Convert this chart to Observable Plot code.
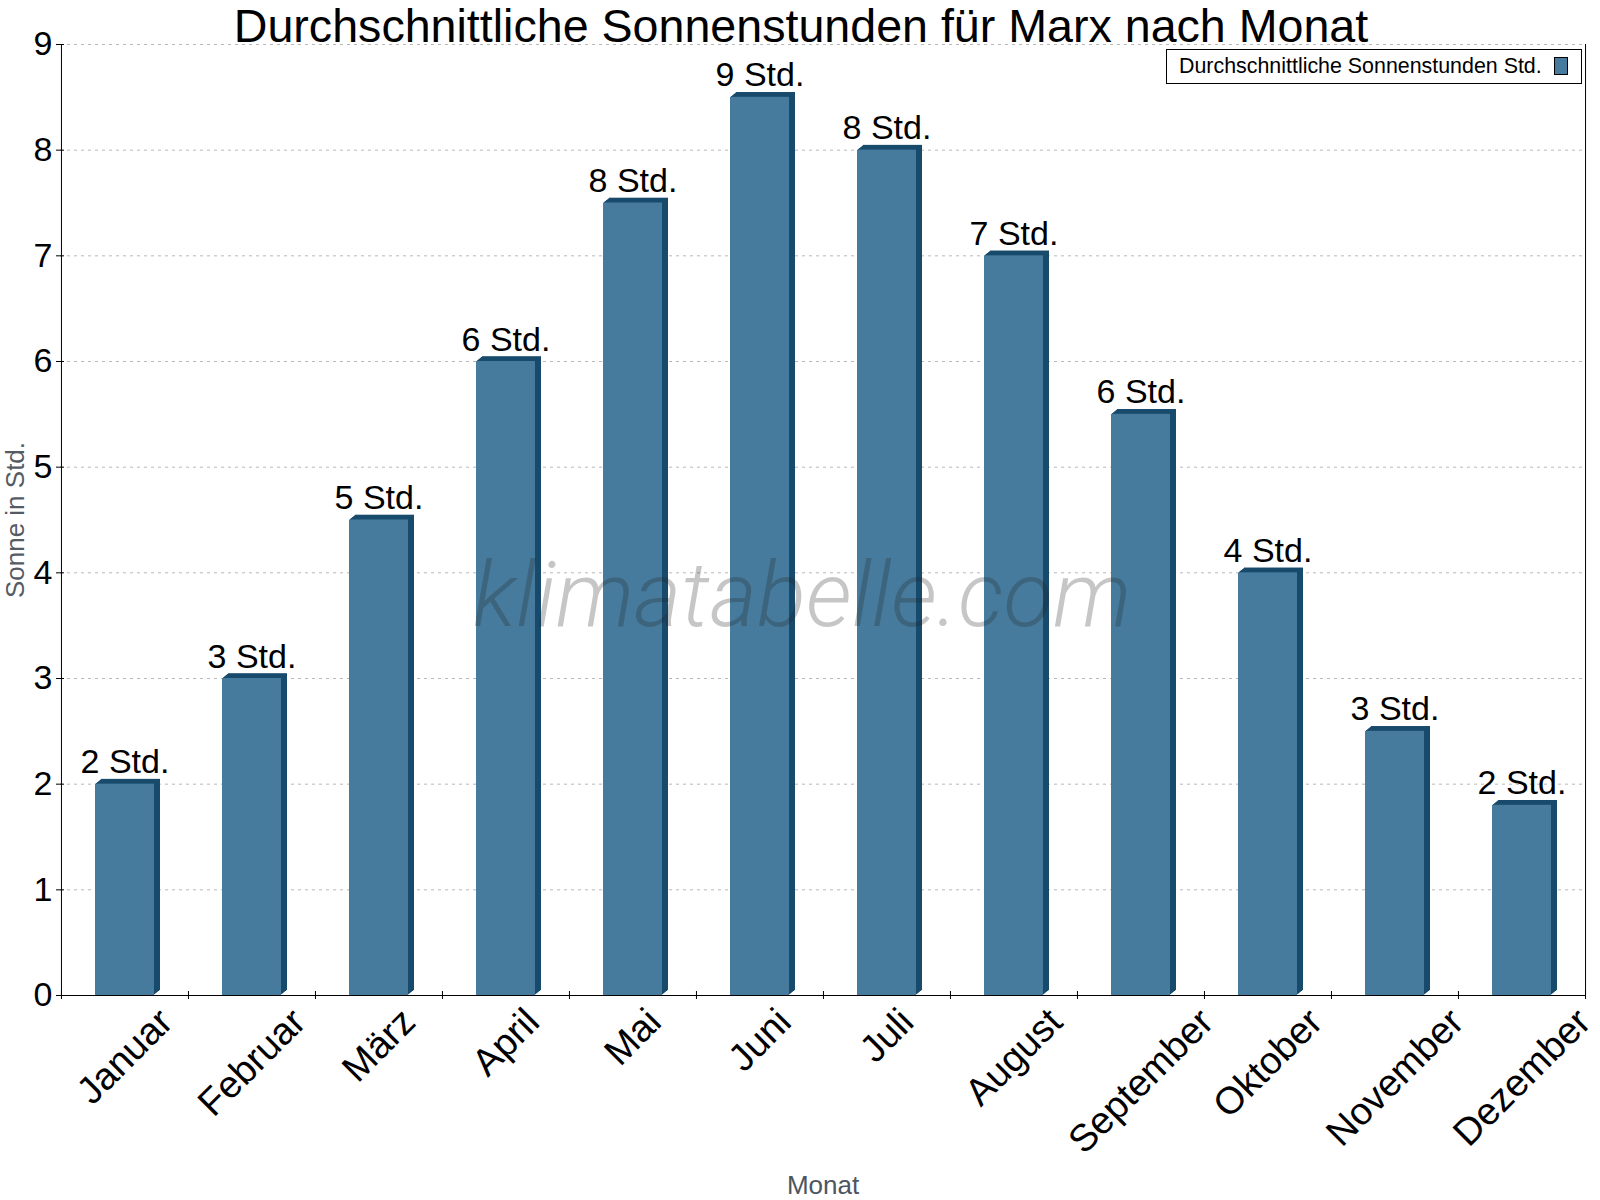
<!DOCTYPE html>
<html>
<head>
<meta charset="utf-8">
<script src="https://cdn.jsdelivr.net/npm/d3@7"></script>
<script src="https://cdn.jsdelivr.net/npm/@observablehq/plot@0.6"></script>
<style>
  body { margin: 0; background: #fff; }
  #wrap { position: relative; width: 1600px; height: 1200px; font-family: "Liberation Sans", Arial, sans-serif; }
  #legend { position: absolute; left: 1166px; top: 49px; width: 416px; height: 35px; box-sizing: border-box; border: 1px solid #000; background: #fff; }
  #legend .txt { position: absolute; left: 12px; top: 6px; font-size: 21.4px; line-height: 21px; color: #000; white-space: nowrap; }
  #legend .sw { position: absolute; left: 387px; top: 7px; width: 14px; height: 18px; box-sizing: border-box; border: 1px solid #000; background: #467B9D; }
</style>
</head>
<body>
<div id="wrap"></div>
<script>
// ---- data ----
const months = ["Januar", "Februar", "März", "April", "Mai", "Juni", "Juli", "August", "September", "Oktober", "November", "Dezember"];
const sunHours = [2, 3, 4.5, 6, 7.5, 8.5, 8, 7, 5.5, 4, 2.5, 1.8];
const labelHours = [2, 3, 5, 6, 8, 9, 8, 7, 6, 4, 3, 2];
const yTicks = [0, 1, 2, 3, 4, 5, 6, 7, 8, 9];
const titleText = "Durchschnittliche Sonnenstunden für Marx nach Monat";
const yLabel = "Sonne in Std.";
const xLabel = "Monat";
const legendLabel = "Durchschnittliche Sonnenstunden Std.";
const watermark = "klimatabelle.com";

const data = months.map((m, i) => ({month: m, value: sunHours[i], label: labelHours[i]}));

// ---- layout ----
const W = 1600, H = 1200;
const mL = 60, mR = 15, mT = 44, mB = 205;
const bw = (W - mL - mR) / months.length;
const ppu = (H - mT - mB) / 9;
const front = "#467B9D", dark = "#184A6B";
const inset = 34;

const ctx = document.createElement("canvas").getContext("2d");
const xFont = 38;
ctx.font = `${xFont}px "Liberation Sans"`;

const depthMarks = [];
for (let k = 1; k <= 6; k++) {
  depthMarks.push(Plot.barY(data, {x: "month", y: "value", fill: dark, insetLeft: inset, insetRight: inset, dx: k, dy: -k * 0.8}));
}

const xLabelMarks = months.map((m) => {
  const w = ctx.measureText(m).width;
  const h = (w + 0.75 * xFont) * Math.SQRT1_2;
  return Plot.text([m], {x: d => d, text: d => d, frameAnchor: "bottom", rotate: -45, textAnchor: "middle", lineAnchor: "middle", dy: 10 + h / 2, fontSize: xFont, fill: "#000"});
});

const chart = Plot.plot({
  width: W, height: H,
  marginLeft: mL, marginRight: mR, marginTop: mT, marginBottom: mB,
  style: {fontFamily: '"Liberation Sans", Arial, sans-serif', background: "#fff", overflow: "visible"},
  x: {type: "band", domain: months, padding: 0, axis: null},
  y: {domain: [0, 9], axis: null},
  marks: [
    Plot.ruleY(yTicks.slice(1), {stroke: "#b8b8b8", strokeDasharray: "3,4"}),
    ...depthMarks,
    Plot.barY(data, {x: "month", y: "value", fill: front, insetLeft: inset, insetRight: inset}),
    // axis lines
    Plot.ruleY([0], {stroke: "#000"}),
    Plot.ruleX([months[0]], {x: d => d, stroke: "#000", dx: -bw / 2}),
    Plot.ruleX([months[months.length - 1]], {x: d => d, stroke: "#000", dx: bw / 2}),
    // x ticks at band boundaries
    Plot.ruleX(months, {x: d => d, y1: -4 / ppu, y2: 4 / ppu, stroke: "#000", dx: -bw / 2}),
    Plot.ruleX([months[months.length - 1]], {x: d => d, y1: -4 / ppu, y2: 4 / ppu, stroke: "#000", dx: bw / 2}),
    // y ticks and labels
    Plot.axisY({ticks: yTicks, tickSize: 8, dx: 4, tickPadding: 4, fontSize: 34, label: null, tickFormat: d => String(d)}),
    // bar value labels
    Plot.text(data, {x: "month", y: "value", text: d => `${d.label} Std.`, dy: -11, lineAnchor: "bottom", fontSize: 34, fill: "#000"}),
    ...xLabelMarks,
    // axis titles
    Plot.text([yLabel], {text: d => d, frameAnchor: "left", dx: -45, rotate: -90, textAnchor: "middle", lineAnchor: "middle", fontSize: 26, fill: "#555b63"}),
    Plot.text([xLabel], {text: d => d, frameAnchor: "bottom", dy: 198, lineAnchor: "bottom", fontSize: 26, fill: "#4d5560"}),
    // title
    Plot.text([titleText], {text: d => d, frameAnchor: "top", dx: -22, dy: -2.5, lineAnchor: "bottom", fontSize: 46.6, fill: "#000"}),
    // watermark
    Plot.text([watermark], {text: d => d, frameAnchor: "middle", dx: -21, dy: 106, lineAnchor: "bottom", fontSize: 91, fontStyle: "italic", fontWeight: 300, fontFamily: "Roboto", fill: "#222", fillOpacity: 0.26})
  ]
});

const wrap = document.getElementById("wrap");
wrap.appendChild(chart);
const legend = document.createElement("div");
legend.id = "legend";
legend.innerHTML = `<span class="txt"></span><span class="sw"></span>`;
legend.querySelector(".txt").textContent = legendLabel;
wrap.appendChild(legend);
</script>
</body>
</html>
